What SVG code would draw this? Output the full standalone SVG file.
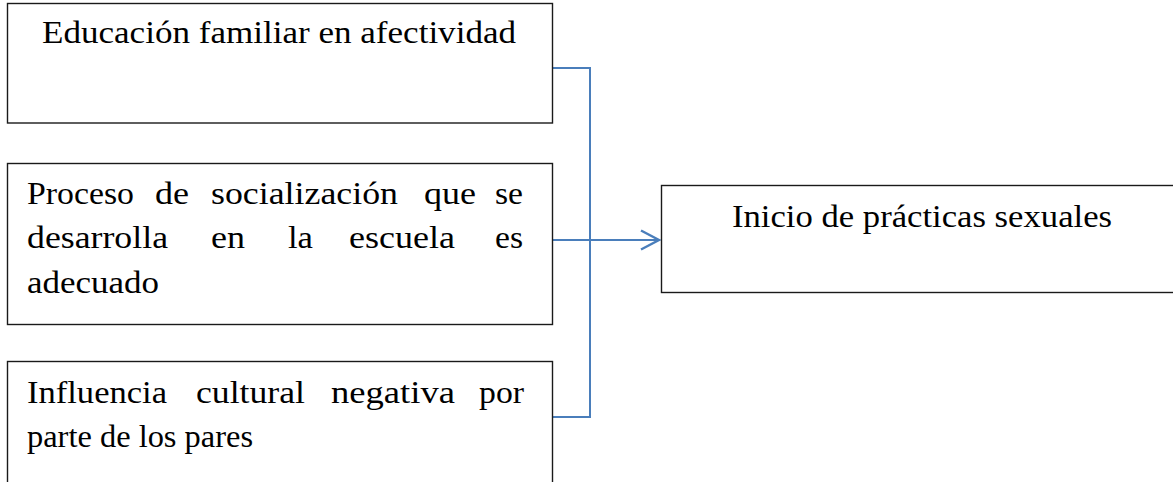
<svg xmlns="http://www.w3.org/2000/svg" width="1173" height="482" viewBox="0 0 1173 482">
  <style>
    .box { fill: #ffffff; stroke: #1a1a1a; stroke-width: 1.4; }
    .t { font-family: "Liberation Serif", "Times New Roman", serif; font-size: 32px; fill: #000000; }
    .conn { fill: none; stroke: #4a7ebb; stroke-width: 2; }
  </style>
  <defs>
    <marker id="arrow" markerUnits="userSpaceOnUse" markerWidth="24" markerHeight="24" refX="19" refY="11" orient="auto">
      <path d="M1,1.5 L19,11 L1,20.5" fill="none" stroke="#4a7ebb" stroke-width="2.4"/>
    </marker>
  </defs>
  <rect width="1173" height="482" fill="#ffffff"/>

  <g id="connectors">
    <path class="conn" d="M552.5,68 H590 V417 H552.5"/>
    <path class="conn" d="M552.5,240 H659" marker-end="url(#arrow)"/>
  </g>

  <g id="node-educacion">
    <rect class="box" x="7.5" y="3.5" width="545" height="119.5"/>
    <text class="t" x="42" y="43" textLength="474" lengthAdjust="spacingAndGlyphs">Educación familiar en afectividad</text>
  </g>

  <g id="node-proceso">
    <rect class="box" x="7.5" y="163.5" width="545" height="161"/>
    <text class="t" x="27" y="204" textLength="107" lengthAdjust="spacingAndGlyphs">Proceso</text>
    <text class="t" x="155" y="204" textLength="34" lengthAdjust="spacingAndGlyphs">de</text>
    <text class="t" x="211" y="204" textLength="187" lengthAdjust="spacingAndGlyphs">socialización</text>
    <text class="t" x="424" y="204" textLength="52" lengthAdjust="spacingAndGlyphs">que</text>
    <text class="t" x="495" y="204" textLength="28" lengthAdjust="spacingAndGlyphs">se</text>
    <text class="t" x="27" y="248" textLength="141" lengthAdjust="spacingAndGlyphs">desarrolla</text>
    <text class="t" x="211" y="248" textLength="34" lengthAdjust="spacingAndGlyphs">en</text>
    <text class="t" x="288" y="248" textLength="25" lengthAdjust="spacingAndGlyphs">la</text>
    <text class="t" x="349" y="248" textLength="106" lengthAdjust="spacingAndGlyphs">escuela</text>
    <text class="t" x="495" y="248" textLength="28" lengthAdjust="spacingAndGlyphs">es</text>
    <text class="t" x="27" y="293" textLength="132" lengthAdjust="spacingAndGlyphs">adecuado</text>
  </g>

  <g id="node-influencia">
    <rect class="box" x="7.5" y="361.5" width="545" height="140"/>
    <text class="t" x="27" y="403" textLength="140" lengthAdjust="spacingAndGlyphs">Influencia</text>
    <text class="t" x="196" y="403" textLength="109" lengthAdjust="spacingAndGlyphs">cultural</text>
    <text class="t" x="331" y="403" textLength="124" lengthAdjust="spacingAndGlyphs">negativa</text>
    <text class="t" x="479" y="403" textLength="45" lengthAdjust="spacingAndGlyphs">por</text>
    <text class="t" x="27" y="447" textLength="226" lengthAdjust="spacingAndGlyphs">parte de los pares</text>
  </g>

  <g id="node-inicio">
    <rect class="box" x="661.5" y="185.5" width="530" height="107"/>
    <text class="t" x="732" y="227" textLength="380" lengthAdjust="spacingAndGlyphs">Inicio de prácticas sexuales</text>
  </g>
</svg>
